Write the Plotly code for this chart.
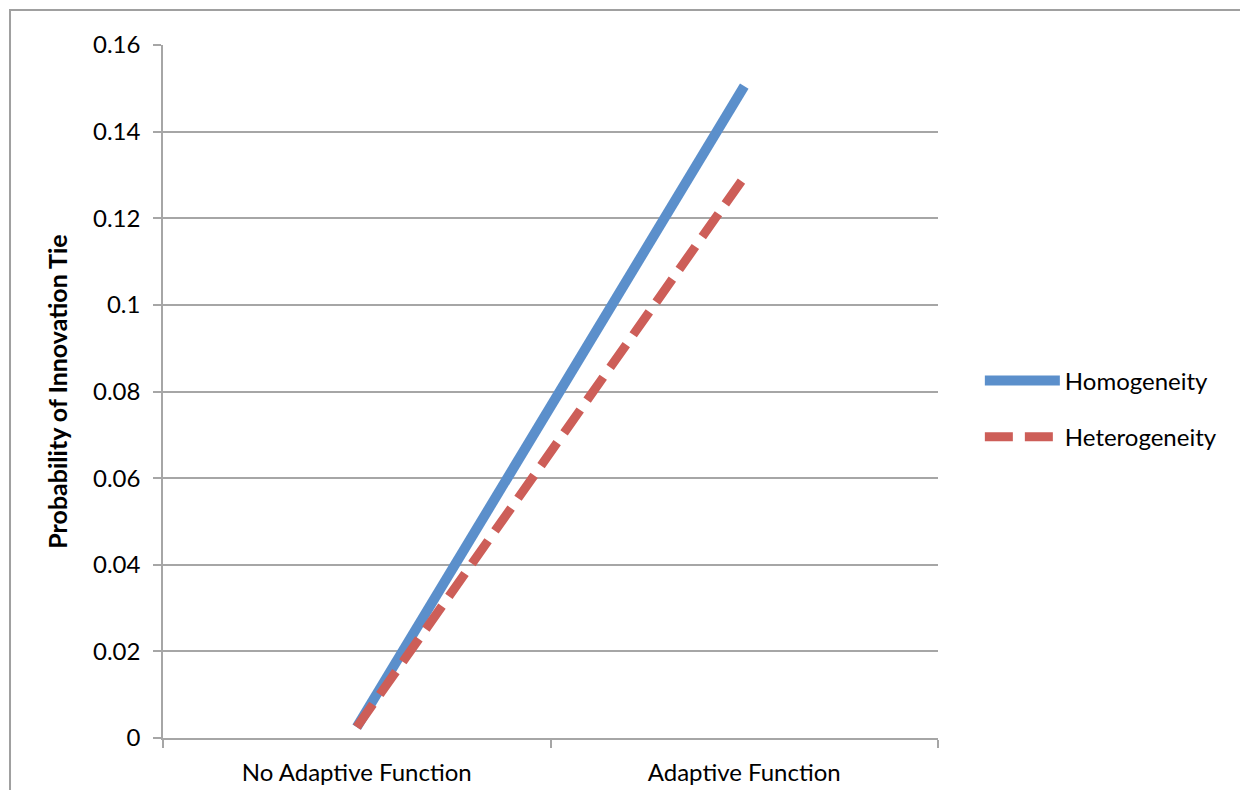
import plotly.graph_objects as go

categories = ["No Adaptive Function", "Adaptive Function"]
homogeneity = [0.0025, 0.1505]
heterogeneity = [0.0025, 0.1295]
y_ticks = [0, 0.02, 0.04, 0.06, 0.08, 0.1, 0.12, 0.14, 0.16]
y_tick_labels = ["0", "0.02", "0.04", "0.06", "0.08", "0.1", "0.12", "0.14", "0.16"]

FONT = "Lato, 'Open Sans', sans-serif"
GRID = "#A6A6A6"

fig = go.Figure()
fig.add_trace(go.Scatter(
    x=categories, y=homogeneity, mode="lines", name="Homogeneity",
    legendgroup="a",
    line=dict(color="#5B8FCB", width=10),
))
fig.add_trace(go.Scatter(
    x=categories, y=heterogeneity, mode="lines", name="Heterogeneity",
    legendgroup="b",
    line=dict(color="#CD5E58", width=9, dash="28px,12px"),
))

fig.update_layout(
    width=1232, height=782,
    margin=dict(l=155, r=302, t=37, b=52, autoexpand=False),
    paper_bgcolor="white", plot_bgcolor="white",
    font=dict(family=FONT, size=24, color="black"),
    showlegend=True,
    legend=dict(x=1.054, y=0.475, xanchor="left", yanchor="middle",
                font=dict(family=FONT, size=24, color="black"),
                tracegroupgap=22, itemwidth=75, bgcolor="rgba(0,0,0,0)"),
    xaxis=dict(type="category", range=[-0.5, 1.5], showgrid=False,
               automargin=False,
               showline=True, linecolor=GRID, linewidth=1.5,
               ticks="outside", tickson="boundaries", ticklen=8,
               tickcolor=GRID, tickwidth=1.5, ticklabelstandoff=12,
               tickfont=dict(family=FONT, size=24)),
    yaxis=dict(range=[0, 0.16], tickvals=y_ticks, ticktext=y_tick_labels,
               automargin=False,
               showgrid=True, gridcolor=GRID, gridwidth=1.5,
               showline=True, linecolor=GRID, linewidth=1.5,
               ticks="outside", ticklen=8, tickcolor=GRID, tickwidth=1.5,
               ticklabelstandoff=8,
               zeroline=False,
               tickfont=dict(family=FONT, size=24),
               title=dict(text="<b>Probability of Innovation Tie</b>",
                          font=dict(family=FONT, size=25), standoff=18)),
    shapes=[dict(type="rect", xref="paper", yref="paper",
                 x0=-0.1974, x1=1.6, y0=-0.3, y1=1.0505,
                 line=dict(color="#A0A0A0", width=2), layer="below")],
)

fig.write_html("out.html")
